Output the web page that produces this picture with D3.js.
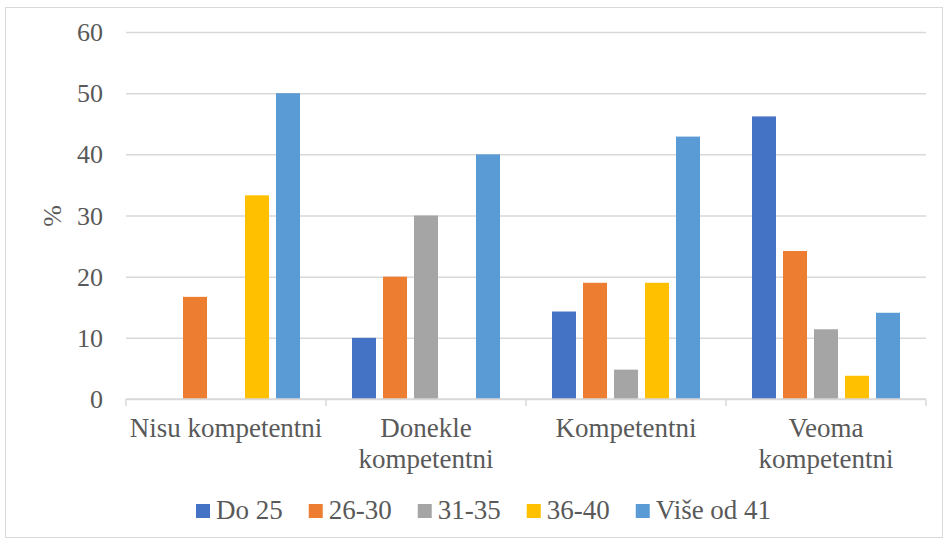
<!DOCTYPE html>
<html>
<head>
<meta charset="utf-8">
<script src="https://cdn.jsdelivr.net/npm/d3@7"></script>
<style>
  body { margin: 0; background: #fff; font-family: "Liberation Serif", serif; }
  #chart text { font-family: "Liberation Serif", serif; }
</style>
</head>
<body>
<svg id="chart" width="945" height="540"></svg>
<script>
const categories = [["Nisu kompetentni"], ["Donekle", "kompetentni"], ["Kompetentni"], ["Veoma", "kompetentni"]];
const seriesNames = ["Do 25", "26-30", "31-35", "36-40", "Više od 41"];
const seriesColors = ["#4472C4", "#ED7D31", "#A5A5A5", "#FFC000", "#5B9BD5"];
// one array per age group, values per category (%)
const do25 = [0, 10, 14.3, 46.2];
const s26_30 = [16.7, 20, 19.0, 24.2];
const s31_35 = [0, 30, 4.8, 11.4];
const s36_40 = [33.3, 0, 19.0, 3.8];
const vise41 = [50, 40, 42.9, 14.1];
const yTicks = [0, 10, 20, 30, 40, 50, 60];

const series = [do25, s26_30, s31_35, s36_40, vise41];
const FONT = "Liberation Serif";
const TXT = "#595959";

const margin = {top: 32, right: 19, bottom: 141, left: 126};
const W = 945, H = 540;
const width = W - margin.left - margin.right;
const height = H - margin.top - margin.bottom;

function draw() {
  const svg = d3.select("#chart");

  // outer chart border
  svg.append("rect")
    .attr("x", 5.5).attr("y", 7.5)
    .attr("width", 937).attr("height", 530)
    .attr("fill", "none").attr("stroke", "#D9D9D9").attr("stroke-width", 1);

  const g = svg.append("g").attr("transform", `translate(${margin.left},${margin.top})`);

  const catKeys = categories.map(c => c.join(" "));
  const x0 = d3.scaleBand().domain(catKeys).range([0, width]).padding(0);
  const x1 = d3.scaleBand().domain(seriesNames).range([0, x0.bandwidth()])
    .paddingInner(0.226).paddingOuter(0.839);
  const y = d3.scaleLinear().domain([0, 60]).range([height, 0]);

  // gridlines
  g.append("g")
    .call(d3.axisLeft(y).tickValues(yTicks).tickSize(-width).tickFormat(""))
    .call(a => a.select(".domain").remove())
    .selectAll("line").attr("stroke", "#D9D9D9").attr("stroke-width", 1.5);

  // y tick labels
  g.append("g").selectAll("text")
    .data(yTicks).enter().append("text")
    .attr("x", -23).attr("y", d => y(d)).attr("dy", "0.35em")
    .attr("text-anchor", "end").attr("font-family", FONT).attr("font-size", 26).attr("fill", TXT)
    .text(d => d);

  // bars
  const grp = g.selectAll(".grp")
    .data(catKeys).enter().append("g")
    .attr("transform", d => `translate(${x0(d)},0)`);

  grp.selectAll("rect")
    .data((d, ci) => seriesNames.map((s, si) => ({s, v: series[si][ci], c: seriesColors[si]})))
    .enter().append("rect")
    .attr("x", d => x1(d.s))
    .attr("y", d => y(d.v))
    .attr("width", x1.bandwidth())
    .attr("height", d => height - y(d.v))
    .attr("fill", d => d.c);

  // x axis with category boundary ticks
  const xAxis = g.append("g").attr("transform", `translate(0,${height})`);
  xAxis.append("line").attr("x1", 0).attr("x2", width)
    .attr("stroke", "#D9D9D9").attr("stroke-width", 1.5);
  const bounds = catKeys.map(k => x0(k)).concat([width]);
  xAxis.selectAll(".tk").data(bounds).enter().append("line")
    .attr("x1", d => d).attr("x2", d => d).attr("y1", 0).attr("y2", 7)
    .attr("stroke", "#D9D9D9").attr("stroke-width", 1.5);

  // category labels
  const lbl = xAxis.selectAll(".cl").data(categories).enter().append("text")
    .attr("text-anchor", "middle").attr("font-family", FONT).attr("font-size", 27).attr("fill", TXT)
    .attr("transform", (d, i) => `translate(${x0(catKeys[i]) + x0.bandwidth() / 2},0)`);
  lbl.selectAll("tspan").data(d => d).enter().append("tspan")
    .attr("x", 0).attr("y", (d, i) => 38 + i * 31).text(d => d);

  // y axis title
  svg.append("text")
    .attr("transform", "translate(61,216) rotate(-90)")
    .attr("text-anchor", "middle").attr("font-family", FONT).attr("font-size", 26).attr("fill", TXT)
    .text("%");

  // legend
  const legend = svg.append("g").attr("transform", "translate(196,519)");
  let lx = 0;
  seriesNames.forEach((name, i) => {
    const item = legend.append("g").attr("transform", `translate(${lx},0)`);
    item.append("rect").attr("x", 0).attr("y", -15).attr("width", 14).attr("height", 14)
      .attr("fill", seriesColors[i]);
    const t = item.append("text").attr("x", 20).attr("y", 0)
      .attr("font-family", FONT).attr("font-size", 27).attr("fill", TXT).text(name);
    lx += 20 + t.node().getComputedTextLength() + 26;
  });
}

if (document.fonts && document.fonts.load) {
  document.fonts.load('27px "Liberation Serif"').then(draw, draw);
} else {
  draw();
}
</script>
</body>
</html>
